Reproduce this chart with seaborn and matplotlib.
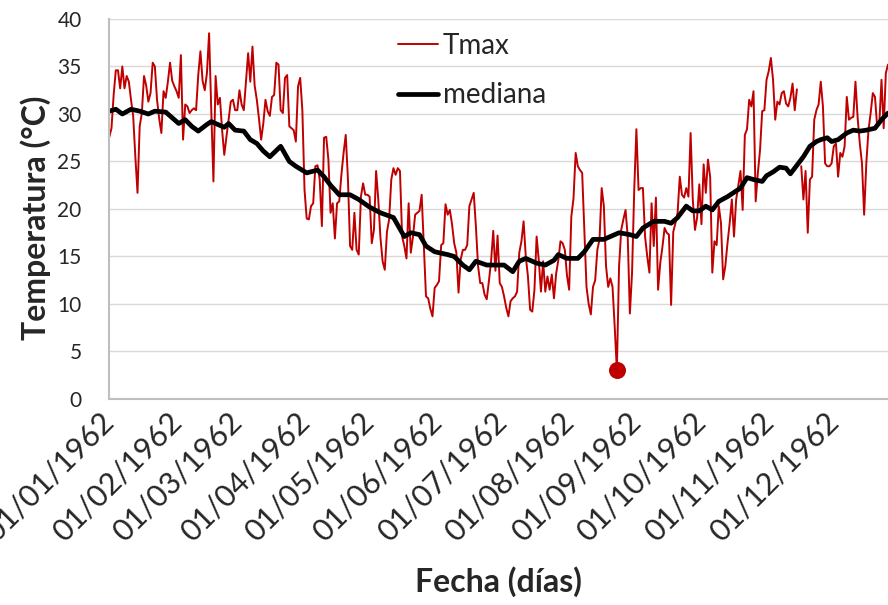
import numpy as np
import pandas as pd
import matplotlib
matplotlib.use("Agg")
import matplotlib.pyplot as plt
import matplotlib.dates as mdates
from matplotlib.lines import Line2D
import seaborn as sns

# Tmax diaria 1962 (°C); NaN = día sin dato
inicio = "1962-01-01"
tmax = [
    # enero - febrero
    27.6, 28.5, 32.0, 34.6, 34.6, 32.7, 35.0, 32.7, 34.0, 33.4,
    31.5, 29.8, 25.5, 21.7, 28.7, 30.1, 34.0, 33.0, 31.3, 32.2,
    35.4, 35.0, 31.5, 29.5, 28.0, 32.4, 31.7, 33.4, 35.4, 33.5,
    32.9, 32.4, 31.7, 36.2, 27.3, 31.0, 30.8, 30.1, 30.4, 30.6,
    30.4, 34.1, 36.6, 33.5, 32.5, 34.3, 38.5, 30.4, 22.9, 34.0,
    31.0, 31.7, 28.3, 25.7, 27.6, 29.4, 31.3, 31.5, 30.4, 30.4,
    # marzo - abril
    32.5, 31.0, 30.4, 33.4, 36.4, 33.4, 37.1, 33.0, 31.5, 29.5,
    27.3, 29.0, 31.5, 30.3, 29.8, 31.8, 32.0, 35.4, 35.2, 30.4,
    30.1, 33.8, 34.1, 28.7, 28.5, 28.3, 27.1, 32.9, 33.8, 30.4,
    22.0, 19.0, 18.9, 20.3, 20.6, 24.5, 24.6, 23.1, 18.2, 27.5,
    27.6, 25.2, 19.6, 20.6, 16.9, 20.6, 20.8, 23.6, 25.9, 27.8,
    23.2, 16.1, 15.7, 19.6, 15.7, 15.2, 21.3, 22.7, 21.5, 21.5,
    # mayo - junio
    21.3, 16.4, 17.8, 24.0, 21.0, 17.0, 14.5, 13.6, 17.6, 18.9,
    23.1, 24.3, 23.6, 24.3, 24.0, 17.1, 16.1, 14.8, 20.6, 15.4,
    17.1, 19.4, 19.6, 19.8, 21.5, 16.1, 10.8, 10.6, 9.5, 8.7,
    11.7, 12.0, 12.4, 16.2, 16.4, 20.5, 19.4, 19.9, 18.4, 16.4,
    15.4, 11.2, 14.7, 15.7, 15.7, 16.2, 20.3, 21.0, 21.7, 18.2,
    14.0, 12.2, 12.2, 11.0, 10.5, 12.4, 14.5, 17.7, 13.5, 17.2,
    # julio - agosto
    12.2, 11.8, 10.8, 9.6, 8.7, 10.3, 10.6, 10.8, 11.3, 15.4,
    16.6, 18.7, 15.0, 12.9, 9.4, 9.2, 11.5, 17.1, 14.6, 11.3,
    14.5, 11.3, 12.9, 11.5, 13.1, 10.6, 13.2, 14.6, 16.6, 16.4,
    15.7, 13.0, 11.5, 19.2, 21.1, 25.9, 24.5, 24.1, 23.8, 17.8,
    11.8, 10.0, 8.9, 11.8, 12.5, 15.7, 16.8, 22.2, 20.3, 14.0,
    11.8, 12.7, 11.8, 7.6, 3.0, 13.9, 17.8, 18.9, 19.9, 17.1,
    # septiembre - octubre
    9.0, 13.3, 22.0, 28.4, 22.0, 22.2, 22.2, 17.1, 15.0, 13.3,
    20.6, 16.1, 21.2, 11.5, 14.3, 16.0, 18.0, 17.5, 17.3, 9.9,
    17.6, 18.5, 19.6, 23.4, 21.5, 21.2, 22.2, 21.3, 28.0, 21.0,
    17.8, 19.1, 22.6, 18.4, 24.7, 21.7, 25.2, 23.4, 13.3, 16.6,
    16.2, 20.3, 18.5, 12.6, 14.0, 16.4, 18.5, 21.0, 17.1, 21.0,
    22.5, 24.0, 19.9, 27.8, 28.4, 31.5, 30.8, 32.4, 20.8, 23.8,
    # noviembre - diciembre
    26.2, 30.3, 30.4, 33.6, 34.5, 35.9, 33.6, 29.4, 31.3, 31.0,
    32.2, 32.4, 31.1, 30.8, 31.7, 33.2, 30.4, 32.6, np.nan, 24.5,
    21.0, 24.0, 17.5, 23.1, 23.4, 29.4, 30.4, 31.0, 33.4, 30.8,
    24.8, 24.5, 24.5, 24.8, 26.6, 26.9, 23.4, 25.9, 25.5, 26.6,
    31.8, 29.4, 29.6, 29.7, 33.4, 29.6, 26.9, 24.8, 19.4, 24.8,
    28.3, 30.1, 32.2, 31.8, 28.7, 29.0, 33.6, 28.5, 34.3, 35.2,
]

# mediana móvil (día del año, °C)
mediana_dias = [
    0, 3, 6, 10, 14, 18, 21, 26, 29, 32, 35, 38, 41, 45, 47, 50, 53, 55, 58,
    62, 65, 68, 71, 74, 79, 83, 86, 91, 96, 99, 102, 106, 111, 115, 120,
    125, 131, 136, 139, 143, 146, 150, 156, 159, 163, 166, 169, 174, 180,
    182, 186, 189, 192, 197, 201, 205, 207, 211, 216, 219, 223, 228, 231,
    235, 240, 243, 246, 251, 256, 259, 262, 266, 269, 272, 275, 278, 281,
    285, 289, 291, 294, 297, 301, 303, 306, 309, 312, 314, 317, 320, 323,
    326, 328, 331, 333, 336, 340, 343, 346, 349, 353, 356, 359,
]
mediana_valores = [
    30.3, 30.5, 30.0, 30.5, 30.3, 30.0, 30.3, 30.2, 29.6, 29.0, 29.4, 28.7,
    28.2, 28.9, 29.2, 28.9, 28.6, 29.0, 28.3,
    28.2, 27.3, 26.9, 26.1, 25.5, 26.6, 25.0, 24.5, 23.8, 24.1, 23.4, 22.5,
    21.5, 21.5, 21.0, 20.2,
    19.6, 19.1, 17.1, 17.5, 17.3, 16.1, 15.5, 15.2, 15.0, 14.1, 13.6, 14.5,
    14.1, 14.1,
    14.1, 13.4, 14.5, 14.8, 14.3, 14.1, 14.6, 15.2, 14.8, 14.8, 15.5, 16.8,
    16.8, 17.1,
    17.5, 17.3, 17.1, 18.0, 18.7, 18.7, 18.5, 19.1, 20.3, 19.8, 19.8, 20.3,
    19.9, 20.8,
    21.3, 21.9, 22.2, 23.3, 23.1, 22.9, 23.5, 23.9, 24.4, 24.3, 23.7, 24.6,
    25.5, 26.6,
    27.1, 27.3, 27.5, 27.1, 27.3, 28.0, 28.3, 28.2, 28.3, 28.5, 29.4, 30.1,
]

ROJO = "#C00000"

fechas = pd.date_range(inicio, periods=len(tmax), freq="D")
df = pd.DataFrame({"fecha": fechas, "tmax": tmax})
df["tramo"] = df["tmax"].isna().cumsum()
df = df.dropna()

med = pd.DataFrame({
    "fecha": pd.Timestamp(inicio) + pd.to_timedelta(mediana_dias, unit="D"),
    "mediana": mediana_valores,
})

sns.set_style("white")
plt.rcParams["font.family"] = ["Lato", "DejaVu Sans"]

fig = plt.figure(figsize=(8.88, 6.05), dpi=100)
ax = fig.add_axes([0.1231, 0.3405, 0.8769, 0.6281])

sns.lineplot(data=df, x="fecha", y="tmax", units="tramo", estimator=None,
             color=ROJO, linewidth=1.4, ax=ax)
sns.lineplot(data=med, x="fecha", y="mediana", color="black", linewidth=3.4,
             ax=ax, solid_capstyle="round", solid_joinstyle="round")

minimo = df.loc[df["tmax"].idxmin()]
sns.scatterplot(x=[minimo["fecha"]], y=[minimo["tmax"]], color=ROJO, s=150,
                edgecolor=ROJO, linewidth=0, ax=ax, zorder=5)

# ejes
ax.set_ylim(0, 40)
ax.set_yticks(range(0, 41, 5))
ax.set_xlim(pd.Timestamp(inicio), pd.Timestamp(inicio) + pd.Timedelta(days=359))
ax.xaxis.set_major_locator(mdates.MonthLocator(bymonthday=1))
ax.xaxis.set_major_formatter(mdates.DateFormatter("%d/%m/%Y"))

ax.yaxis.grid(True, color="#D9D9D9", linewidth=1)
ax.xaxis.grid(False)
for lado in ["top", "right"]:
    ax.spines[lado].set_visible(False)
for lado in ["left", "bottom"]:
    ax.spines[lado].set_color("#BFBFBF")
    ax.spines[lado].set_linewidth(1.5)

ax.tick_params(axis="both", direction="out", length=8, width=1, color="#8C8C8C")
ax.tick_params(axis="y", labelsize=15, pad=12)
ax.tick_params(axis="x", labelsize=22, pad=5)
for t in ax.get_xticklabels():
    t.set_rotation(45)
    t.set_ha("right")
    t.set_va("center")
    t.set_rotation_mode("anchor")

ax.set_xlabel("Fecha (días)", fontsize=23, fontweight="bold")
ax.set_ylabel("Temperatura (°C)", fontsize=23, fontweight="bold")
ax.xaxis.set_label_coords(0.5, -0.44)
ax.yaxis.set_label_coords(-0.075, 0.476)

# leyenda
handles = [Line2D([], [], color=ROJO, linewidth=1.4),
           Line2D([], [], color="black", linewidth=3.4)]
ax.legend(handles, ["Tmax", "mediana"], loc="upper left",
          bbox_to_anchor=(0.371, 0.964), frameon=False, fontsize=20,
          borderpad=0, borderaxespad=0, handlelength=1.45,
          handletextpad=0.15, labelspacing=0.85)

fig.savefig("out.png", dpi=100)
